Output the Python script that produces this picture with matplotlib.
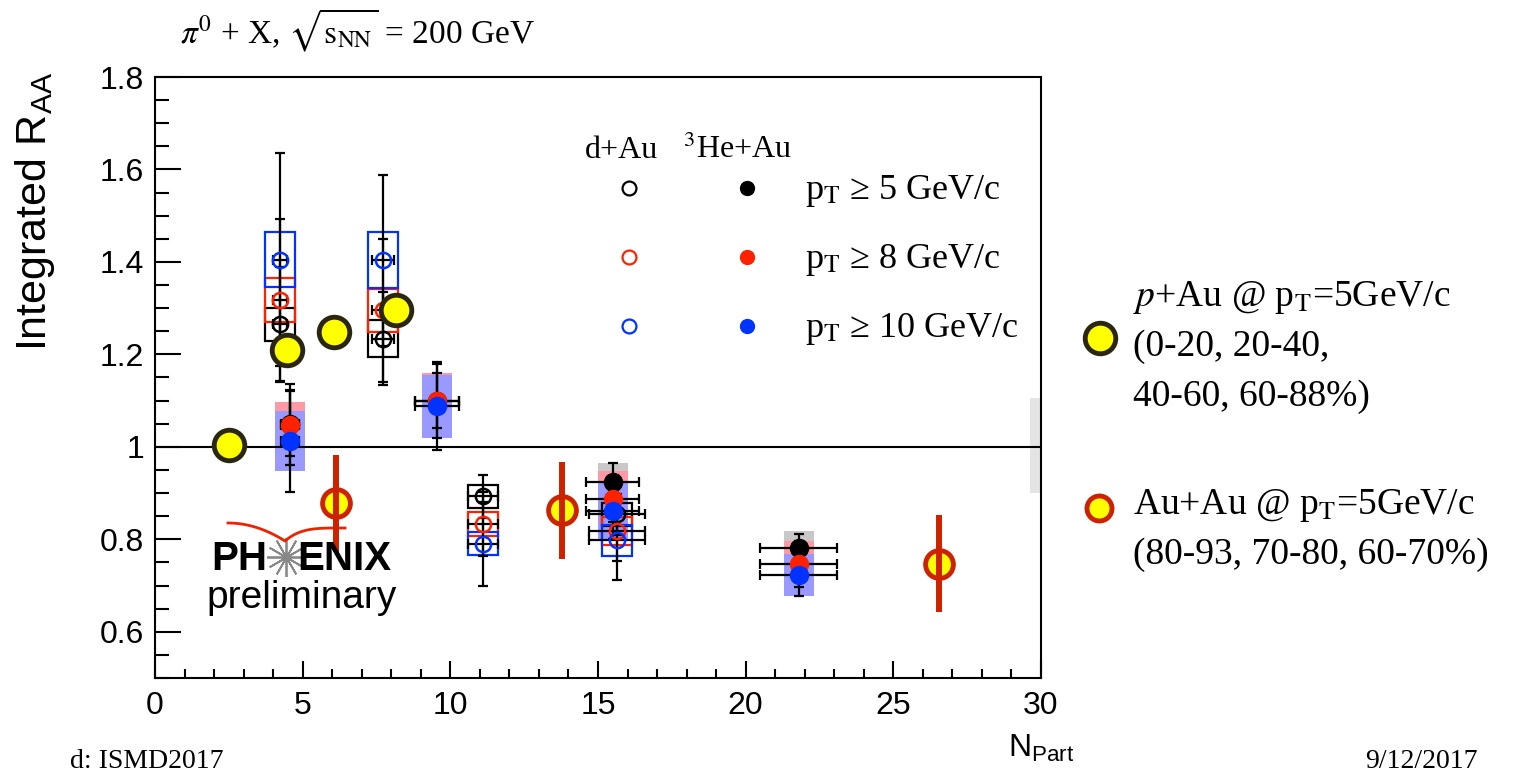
import numpy as np
import matplotlib
matplotlib.use("Agg")
import matplotlib.pyplot as plt
from matplotlib.patches import Rectangle

plt.rcParams['font.family'] = ['Liberation Sans', 'DejaVu Sans']
plt.rcParams['mathtext.fontset'] = 'custom'
plt.rcParams['mathtext.rm'] = 'Liberation Sans'
plt.rcParams['mathtext.it'] = 'Liberation Sans:italic'
plt.rcParams['mathtext.bf'] = 'Liberation Sans:bold'
plt.rcParams['hatch.color'] = '#b8b8b8'

# d+Au (open markers)
dau_npart = [4.23, 7.72, 11.1, 15.65]
dau_xerr = [0.25, 0.37, 0.5, 0.95]
dau_pt5 = [1.265, 1.234, 0.893, 0.854]
dau_pt5_stat = [0.125, 0.10, 0.047, 0.045]
dau_pt5_sys = [0.035, 0.04, 0.025, 0.025]
dau_pt8 = [1.318, 1.295, 0.833, 0.818]
dau_pt8_stat = [0.175, 0.155, 0.07, 0.065]
dau_pt8_sys = [0.048, 0.047, 0.025, 0.03]
dau_pt10 = [1.405, 1.404, 0.79, 0.798]
dau_pt10_stat = [0.23, 0.185, 0.09, 0.085]
dau_pt10_sys = [0.06, 0.06, 0.025, 0.034]

# 3He+Au (filled markers)
he3_npart = [4.57, 9.55, 15.5, 21.8]
he3_xerr = [0.3, 0.75, 0.9, 1.3]
he3_pt5 = [1.05, 1.10, 0.924, 0.781]
he3_pt5_stat = [0.07, 0.06, 0.04, 0.03]
he3_pt5_sys = [0.04, 0.05, 0.04, 0.037]
he3_pt8 = [1.048, 1.10, 0.887, 0.747]
he3_pt8_stat = [0.087, 0.08, 0.05, 0.05]
he3_pt8_sys = [0.05, 0.06, 0.06, 0.05]
he3_pt10 = [1.012, 1.088, 0.861, 0.723]
he3_pt10_stat = [0.11, 0.095, 0.06, 0.045]
he3_pt10_sys = [0.065, 0.068, 0.06, 0.045]

# p+Au and Au+Au at pT = 5 GeV/c
pau_npart = [2.5, 4.47, 6.06, 8.16]
pau_raa = [1.005, 1.21, 1.249, 1.297]
auau_npart = [6.13, 13.78, 26.55]
auau_raa = [0.878, 0.863, 0.747]
auau_err = [0.105, 0.105, 0.105]

# global normalisation band at right edge
glob_lo, glob_hi = 0.90, 1.105

W, H = 1516, 778
def fx(px):
    return np.asarray(px) / W
def fy(py):
    return 1 - np.asarray(py) / H

fig = plt.figure(figsize=(W / 100, H / 100), dpi=100)
ax = fig.add_axes([fx(155), fy(678), 886 / W, 601 / H])
ax.set_xlim(0, 30)
ax.set_ylim(0.5, 1.8)

cols = {'k': 'black', 'r': '#ff2200', 'b': '#0033ff'}
fills = {'k': '#c8c8c8', 'r': '#ff99a6', 'b': '#9999ff'}
bw = 0.5

# 3He+Au filled systematic boxes
for c, vals, sys in [('k', he3_pt5, he3_pt5_sys), ('r', he3_pt8, he3_pt8_sys), ('b', he3_pt10, he3_pt10_sys)]:
    for x, v, s in zip(he3_npart, vals, sys):
        ax.add_patch(Rectangle((x - bw, v - s), 2 * bw, 2 * s, facecolor=fills[c], edgecolor='none', zorder=1))

# d+Au open systematic boxes
for c, vals, sys in [('k', dau_pt5, dau_pt5_sys), ('r', dau_pt8, dau_pt8_sys), ('b', dau_pt10, dau_pt10_sys)]:
    for x, v, s in zip(dau_npart, vals, sys):
        ax.add_patch(Rectangle((x - bw, v - s), 2 * bw, 2 * s, facecolor='none', edgecolor=cols[c], lw=1.6, zorder=2))

ax.axhline(1.0, color='black', lw=1.5, zorder=1.5)

# error bars
for vals, st in [(dau_pt5, dau_pt5_stat), (dau_pt8, dau_pt8_stat), (dau_pt10, dau_pt10_stat)]:
    ax.errorbar(dau_npart, vals, xerr=dau_xerr, yerr=st, fmt='none', ecolor='black', elinewidth=1.6, capsize=3.5, capthick=1.6, zorder=3)
for vals, st in [(he3_pt5, he3_pt5_stat), (he3_pt8, he3_pt8_stat), (he3_pt10, he3_pt10_stat)]:
    ax.errorbar(he3_npart, vals, xerr=he3_xerr, yerr=st, fmt='none', ecolor='black', elinewidth=1.6, capsize=3.5, capthick=1.6, zorder=3)

# markers
for c, vals in [('k', dau_pt5), ('r', dau_pt8), ('b', dau_pt10)]:
    ax.plot(dau_npart, vals, 'o', ms=11, mfc='none', mec=cols[c], mew=1.8, ls='none', zorder=4)
for c, vals in [('k', he3_pt5), ('r', he3_pt8), ('b', he3_pt10)]:
    ax.plot(he3_npart, vals, 'o', ms=13, mfc=cols[c], mec=cols[c], ls='none', zorder=4)

# p+Au
ax.plot(pau_npart, pau_raa, 'o', ms=22, mfc='#ffff00', mec='#2a2612', mew=3.5, ls='none', zorder=6)
# Au+Au
ax.plot(auau_npart, auau_raa, 'o', ms=20, mfc='#ffff00', mec='#cc2200', mew=3.5, ls='none', zorder=6)
ax.vlines(auau_npart, np.array(auau_raa) - np.array(auau_err), np.array(auau_raa) + np.array(auau_err),
          color='#cc2200', lw=4.3, zorder=7)

# global uncertainty box
ax.add_patch(Rectangle((29.63, glob_lo), 0.37, glob_hi - glob_lo, facecolor='#e4e4e4', edgecolor='none',
                       hatch='....', lw=0, zorder=1))

# axes styling
for sp in ax.spines.values():
    sp.set_linewidth(1.5)
ax.set_xticks(np.arange(0, 31, 5))
ax.set_xticks(np.arange(0, 31, 1), minor=True)
ax.set_yticks([0.6, 0.8, 1.0, 1.2, 1.4, 1.6, 1.8])
ax.set_yticks(np.arange(0.5, 1.801, 0.05), minor=True)
ax.set_yticklabels(['0.6', '0.8', '1', '1.2', '1.4', '1.6', '1.8'])
ax.tick_params(axis='x', which='major', direction='in', length=12.5, width=1.5, labelsize=23, pad=9)
ax.tick_params(axis='x', which='minor', direction='in', length=6.5, width=1.5)
ax.tick_params(axis='y', which='major', direction='in', length=19, width=1.5, labelsize=23, pad=8)
ax.tick_params(axis='y', which='minor', direction='in', length=10, width=1.5)

fig.text(fx(35), fy(72), r'Integrated R$_{\rm AA}$', rotation=90, ha='center', va='top', fontsize=31)
fig.text(fx(1008), fy(748), r'N$_{\rm Part}$', ha='left', va='center', fontsize=23)

serif = ['Liberation Serif', 'DejaVu Serif']
fig.text(fx(180), fy(30), r'$\pi^0$ + X, $\sqrt{\mathrm{s}_{\rm NN}}$ = 200 GeV', family=serif,
         math_fontfamily='stix', ha='left', va='center', fontsize=24)

# inner legend
fig.text(fx(585), fy(150), 'd+Au', family=serif, math_fontfamily='stix', ha='left', va='center', fontsize=23)
fig.text(fx(683), fy(150), r'$^3$He+Au', family=serif, math_fontfamily='stix', ha='left', va='center', fontsize=23)
leg_rows = [('k', r'p$_{\rm T}$ ≥ 5 GeV/c', 188), ('r', r'p$_{\rm T}$ ≥ 8 GeV/c', 257), ('b', r'p$_{\rm T}$ ≥ 10 GeV/c', 326)]
for c, lab, py in leg_rows:
    ax.plot([fx(629)], [fy(py)], 'o', ms=10, mfc='none', mec=cols[c], mew=1.6, transform=fig.transFigure, clip_on=False)
    ax.plot([fx(747)], [fy(py)], 'o', ms=10, mfc=cols[c], mec=cols[c], transform=fig.transFigure, clip_on=False)
    fig.text(fx(805), fy(py + 3), lab, family=serif, math_fontfamily='stix', ha='left', va='center', fontsize=26)

# outer legend
ax.plot([fx(1100)], [fy(338)], 'o', ms=22, mfc='#ffff00', mec='#2a2612', mew=3.5, transform=fig.transFigure, clip_on=False)
ax.plot([fx(1099)], [fy(508)], 'o', ms=18, mfc='#ffff00', mec='#cc2200', mew=3.5, transform=fig.transFigure, clip_on=False)
out_lines = [(r'$p$+Au @ p$_{\rm T}$=5GeV/c', 298), ('(0-20, 20-40,', 347), ('40-60, 60-88%)', 397),
             (r'Au+Au @ p$_{\rm T}$=5GeV/c', 505), ('(80-93, 70-80, 60-70%)', 555)]
for lab, py in out_lines:
    fig.text(fx(1133), fy(py), lab, family=serif, math_fontfamily='stix', ha='left', va='center', fontsize=27)

# PHENIX preliminary logo
fig.text(fx(211), fy(559), 'PH', fontweight='bold', ha='left', va='center', fontsize=29)
fig.text(fx(297), fy(559), 'ENIX', fontweight='bold', ha='left', va='center', fontsize=29)
ax.plot([fx(286)], [fy(557)], marker=(12, 2, 0), ms=28, mec='#888888', mew=1.3, transform=fig.transFigure, clip_on=False)
fig.text(fx(206), fy(598), 'preliminary', ha='left', va='center', fontsize=28)
t = np.linspace(0, 1, 30)
sw_x = np.concatenate([228 + 57 * t, 285 + 60 * t])
sw_y = np.concatenate([523 + 18 * t ** 2, 541 - 13 * (1 - (1 - t) ** 4)])
ax.plot(fx(sw_x), fy(sw_y), color='#ee2200', lw=2, transform=fig.transFigure, clip_on=False)

# footer
fig.text(fx(224), fy(774), 'd: ISMD2017', family=serif, ha='right', va='bottom', fontsize=20)
fig.text(fx(1478), fy(774), '9/12/2017', family=serif, ha='right', va='bottom', fontsize=20)

fig.savefig('out.png', dpi=100)
